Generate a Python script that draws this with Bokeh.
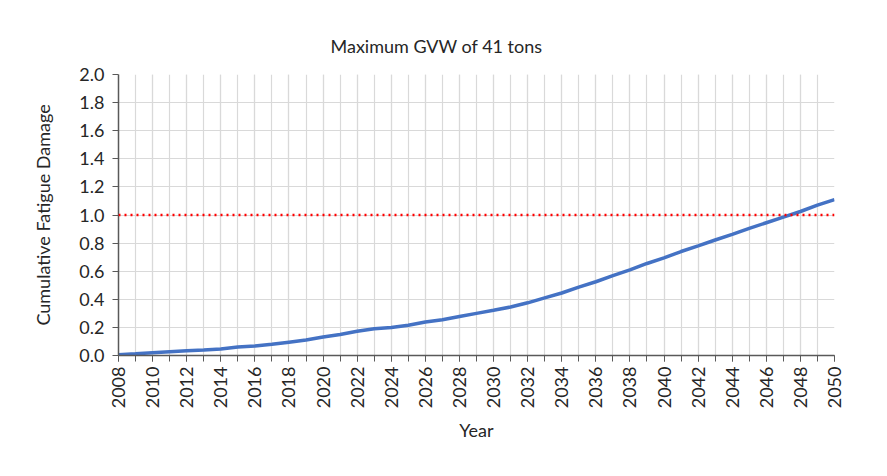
import math
from bokeh.plotting import figure
from bokeh.models import FixedTicker, Range1d, Span, PrintfTickFormatter
from bokeh.embed import file_html
from bokeh.resources import INLINE

years = list(range(2008, 2051))
damage = [0.005, 0.012, 0.02, 0.027, 0.034, 0.04, 0.047, 0.06, 0.068, 0.08,
          0.095, 0.11, 0.132, 0.15, 0.172, 0.19, 0.2, 0.215, 0.238, 0.255,
          0.278, 0.3, 0.322, 0.345, 0.375, 0.41, 0.445, 0.487, 0.525, 0.568,
          0.61, 0.655, 0.695, 0.74, 0.78, 0.822, 0.862, 0.905, 0.945, 0.985,
          1.025, 1.07, 1.11]
threshold = 1.0
x_label_years = list(range(2008, 2051, 2))
y_ticks = [0.0, 0.2, 0.4, 0.6, 0.8, 1.0, 1.2, 1.4, 1.6, 1.8, 2.0]

FONT = "Lato"
TXT = "#262626"
p = figure(width=887, height=476, output_backend="svg", toolbar_location=None,
           x_range=Range1d(2008, 2050), y_range=Range1d(0, 2),
           min_border_left=118, min_border_right=53, min_border_top=74,
           min_border_bottom=121, title="Maximum GVW of 41 tons")
p.outline_line_color = None
p.title.align = "left"
p.title.offset = 212
p.title.text_font = FONT
p.title.text_font_size = "18px"
p.title.text_font_style = "normal"
p.title.text_color = TXT
p.title.standoff = 36

p.line(years, damage, line_color="#4472C4", line_width=3.5)
p.add_layout(Span(location=threshold, dimension="width", line_color="red",
                  line_width=2.5, line_dash="2 4"))

p.xaxis.ticker = FixedTicker(ticks=x_label_years, minor_ticks=years)
p.yaxis.ticker = FixedTicker(ticks=y_ticks)
p.yaxis.formatter = PrintfTickFormatter(format="%.1f")
p.xaxis.major_label_orientation = math.pi / 2

for ax in (p.xaxis, p.yaxis):
    ax.axis_line_color = "#595959"
    ax.axis_line_width = 1.5
    ax.major_tick_line_color = "#595959"
    ax.minor_tick_line_color = "#595959"
    ax.major_tick_in = 0
    ax.major_tick_out = 6
    ax.major_label_text_font = FONT
    ax.major_label_text_font_size = "18px"
    ax.major_label_text_color = TXT
    ax.axis_label_text_font = FONT
    ax.axis_label_text_font_size = "18px"
    ax.axis_label_text_font_style = "normal"
    ax.axis_label_text_color = TXT
p.xaxis.minor_tick_in = 0
p.xaxis.minor_tick_out = 6
p.yaxis.minor_tick_line_color = None
p.xaxis.axis_label = "Year"
p.yaxis.axis_label = "Cumulative Fatigue Damage"
p.xaxis.major_label_standoff = 5
p.yaxis.major_label_standoff = 8
p.xaxis.axis_label_standoff = 8
p.yaxis.axis_label_standoff = 22

p.xgrid.grid_line_color = "#d9d9d9"
p.xgrid.minor_grid_line_color = "#d9d9d9"
p.xgrid.grid_line_width = 1.2
p.xgrid.minor_grid_line_width = 1.2
p.ygrid.grid_line_color = "#d9d9d9"
p.ygrid.grid_line_width = 1.2

open("out.html", "w").write(file_html(p, INLINE))
